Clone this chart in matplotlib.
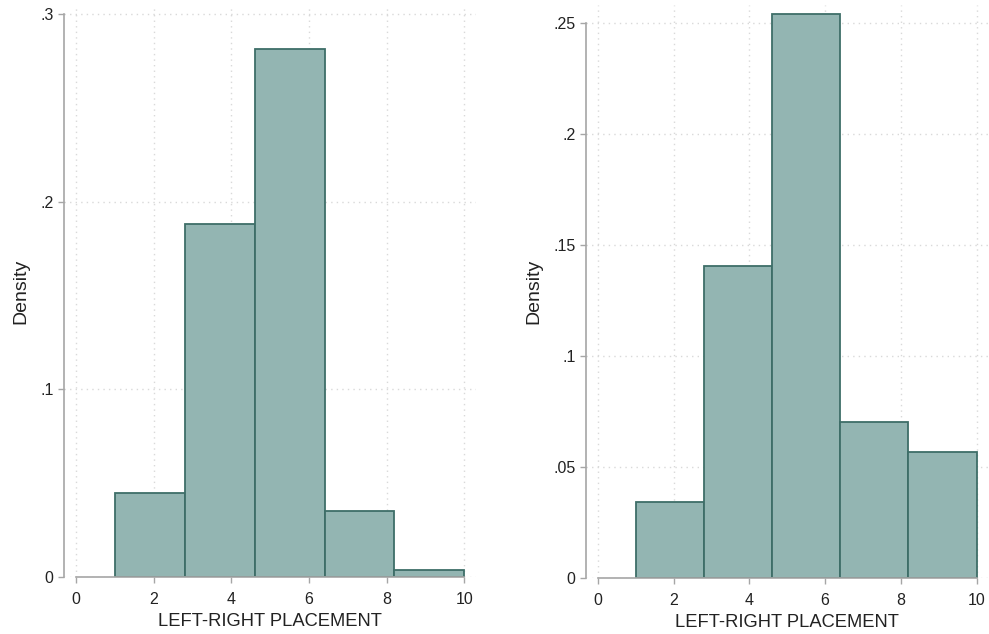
import numpy as np
import matplotlib.pyplot as plt

plt.rcParams['font.family'] = ['Liberation Sans', 'DejaVu Sans']

# Histogram data (density per bin)
bin_edges = [1.0, 2.8, 4.6, 6.4, 8.2, 10.0]
left_density = [0.0448, 0.188, 0.2813, 0.0352, 0.0037]
right_density = [0.0343, 0.1406, 0.2542, 0.0703, 0.0568]

left_yticks = [0, 0.1, 0.2, 0.3]
left_ylabels = ['0', '.1', '.2', '.3']
right_yticks = [0, 0.05, 0.1, 0.15, 0.2, 0.25]
right_ylabels = ['0', '.05', '.1', '.15', '.2', '.25']
xticks = [0, 2, 4, 6, 8, 10]

fill_col = '#93b5b2'
edge_col = '#3e6e68'
axis_col = '#a6a6a6'
grid_col = '#d9d9d9'
text_col = '#222222'

fig = plt.figure(figsize=(9.89, 6.34), dpi=100)
ax1 = fig.add_axes([0.0647, 0.0899, 0.4166, 0.902])
ax2 = fig.add_axes([0.5925, 0.0883, 0.4065, 0.9038])


def draw(ax, dens, yticks, ylabels, ytop, ymax_tick):
    edges = np.array(bin_edges)
    ax.bar(edges[:-1], dens, width=np.diff(edges), align='edge',
           color=fill_col, edgecolor=edge_col, linewidth=1.3, zorder=3)
    ax.set_xlim(-0.31, 10.3)
    ax.set_ylim(0, ytop)
    ax.set_xticks(xticks)
    ax.set_xticklabels([str(t) for t in xticks])
    ax.set_yticks(yticks)
    ax.set_yticklabels(ylabels)
    ax.grid(True, linestyle=(0, (1, 3)), color=grid_col, linewidth=1.0, zorder=0)
    for s in ['top', 'right']:
        ax.spines[s].set_visible(False)
    ax.spines['left'].set_color(axis_col)
    ax.spines['bottom'].set_color(axis_col)
    ax.spines['left'].set_linewidth(1.2)
    ax.spines['bottom'].set_linewidth(1.2)
    ax.spines['left'].set_bounds(0, ymax_tick)
    ax.spines['bottom'].set_bounds(0, 10)
    ax.spines['bottom'].set_zorder(4)
    ax.tick_params(axis='both', colors=axis_col, labelcolor=text_col,
                   labelsize=11.5, length=4.5, width=1.0)
    ax.tick_params(axis='y', pad=3)
    ax.tick_params(axis='x', pad=6.5)
    ax.set_ylabel('Density', fontsize=14, color=text_col, labelpad=8)
    ax.set_xlabel('LEFT-RIGHT PLACEMENT', fontsize=13.2, color=text_col, labelpad=4)


draw(ax1, left_density, left_yticks, left_ylabels, 0.3048, 0.3)
draw(ax2, right_density, right_yticks, right_ylabels, 0.2583, 0.25)

fig.savefig('out.png', dpi=100)
